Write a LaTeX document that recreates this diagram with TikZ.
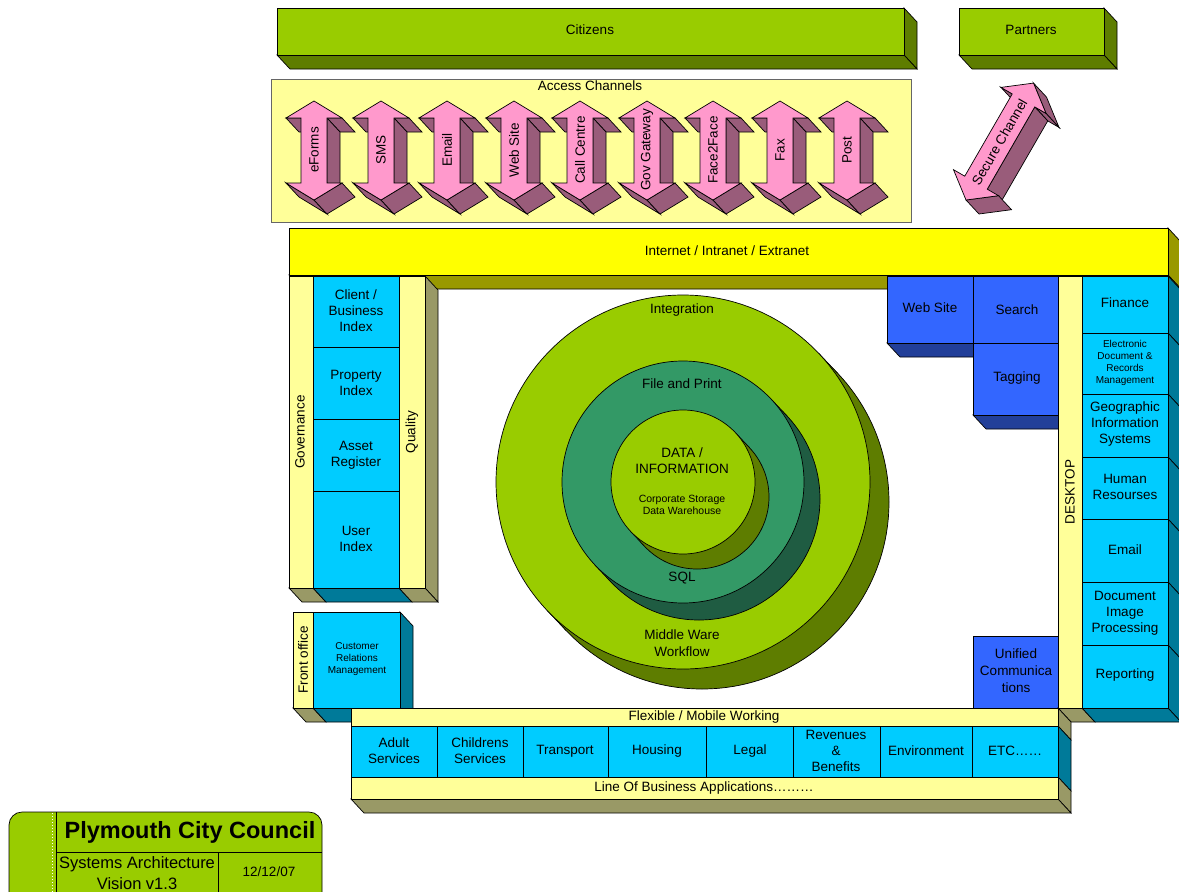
\documentclass[tikz,border=0pt]{standalone}
\usepackage{fontspec}
\setmainfont{Liberation Sans}
\usetikzlibrary{calc}

\definecolor{pcLime}{HTML}{99CC00}
\definecolor{pcOlive}{HTML}{5E7D00}
\definecolor{pcPale}{HTML}{FFFF99}
\definecolor{pcYellow}{HTML}{FFFF00}
\definecolor{pcMustard}{HTML}{999900}
\definecolor{pcKhaki}{HTML}{999966}
\definecolor{pcCyan}{HTML}{00CCFF}
\definecolor{pcTeal}{HTML}{007A99}
\definecolor{pcBlue}{HTML}{3366FF}
\definecolor{pcNavy}{HTML}{223F99}
\definecolor{pcPink}{HTML}{FF99CC}
\definecolor{pcMauve}{HTML}{995C7A}
\definecolor{pcSea}{HTML}{339966}
\definecolor{pcPine}{HTML}{1F5C42}

\tikzset{
  outl/.style={draw=black, line width=0.7pt, line join=miter},
  lbl/.style={font=\fontsize{13.5}{16}\selectfont, align=center, inner sep=0pt},
  smalltxt/.style={font=\fontsize{10}{12}\selectfont, align=center, inner sep=0pt},
}

% extruded block: right face, bottom face, then front face
\newcommand\solidblock[6]{% x1,y1,x2,y2,front,side
  \filldraw[fill=#6, outl] (#3,#2) -- (#3+13,#2+14) -- (#3+13,#4+14) -- (#3,#4) -- cycle;
  \filldraw[fill=#6, outl] (#1,#4) -- (#3,#4) -- (#3+13,#4+14) -- (#1+13,#4+14) -- cycle;
  \filldraw[fill=#5, outl] (#1,#2) rectangle (#3,#4);
}

% extruded double-headed channel arrow centred on x = #1
\newcommand\chanarrow[3]{%
  \begin{scope}[shift={(#1,0)}]
    \filldraw[fill=pcMauve, outl] (-13,118) -- (-28,118) -- (-15,132) -- (0,132) -- cycle;
    \filldraw[fill=pcMauve, outl] (28,118) -- (13,118) -- (26,132) -- (41,132) -- cycle;
    \filldraw[fill=pcMauve, outl] (13,118) -- (13,183) -- (26,197) -- (26,132) -- cycle;
    \filldraw[fill=pcMauve, outl] (0,200) -- (-28,183) -- (-15,197) -- (13,214) -- cycle;
    \filldraw[fill=pcMauve, outl] (28,183) -- (0,200) -- (13,214) -- (41,197) -- cycle;
    \filldraw[fill=pcPink, outl] (0,101) -- (28,118) -- (13,118) -- (13,183) -- (28,183)
      -- (0,200) -- (-28,183) -- (-13,183) -- (-13,118) -- (-28,118) -- cycle;
    \node[lbl, rotate=90] (#2) at (0,150) {#3};
  \end{scope}}

% extruded disc: back disc, tangent band, front disc
\newcommand\disc[7]{% cx,cy,R,dx,dy,front,side
  \pgfmathsetmacro\tpx{#3*#5/sqrt(#4*#4+#5*#5)}%
  \pgfmathsetmacro\tpy{#3*#4/sqrt(#4*#4+#5*#5)}%
  \filldraw[fill=#7, outl] (#1+#4,#2+#5) circle[radius=#3pt];
  \fill[#7] (#1+\tpx,#2-\tpy) -- (#1-\tpx,#2+\tpy) -- (#1-\tpx+#4,#2+\tpy+#5) -- (#1+\tpx+#4,#2-\tpy+#5) -- cycle;
  \draw[outl] (#1+\tpx,#2-\tpy) -- (#1+\tpx+#4,#2-\tpy+#5);
  \draw[outl] (#1-\tpx,#2+\tpy) -- (#1-\tpx+#4,#2+\tpy+#5);
  \filldraw[fill=#6, outl] (#1,#2) circle[radius=#3pt];
}

\begin{document}
\begin{tikzpicture}[x=1pt,y=-1pt]
\useasboundingbox (0,0) rectangle (1179,892);
\fill[white] (0,0) rectangle (1179,892);
\clip (0,0) rectangle (1179,892);

% ---------- top: citizens and partners ----------
\solidblock{277}{8}{904}{55}{pcLime}{pcOlive}
\node[lbl] (citizens) at (590,30) {Citizens};
\solidblock{959}{8}{1104}{55}{pcLime}{pcOlive}
\node[lbl] (partners) at (1031,30) {Partners};

% ---------- access channels ----------
\filldraw[fill=pcPale, draw=black!60, line width=0.8pt] (271,79) rectangle (911,222);
\node[lbl] (access) at (590,86) {Access Channels};
\chanarrow{314}{chEforms}{eForms}
\chanarrow{381}{chSms}{SMS}
\chanarrow{447}{chEmail}{Email}
\chanarrow{514}{chWeb}{Web Site}
\chanarrow{580}{chCall}{Call Centre}
\chanarrow{647}{chGov}{Gov Gateway}
\chanarrow{713}{chFace}{Face2Face}
\chanarrow{780}{chFax}{Fax}
\chanarrow{847}{chPost}{Post}

% ---------- secure channel ----------
\begin{scope}[shift={(966,200)}, rotate=60]
  \coordinate (q1) at (135,0);
  \coordinate (q2) at (115,26);
  \coordinate (q3) at (115,13);
  \coordinate (q4) at (20,13);
  \coordinate (q5) at (20,26);
  \coordinate (q6) at (0,0);
  \coordinate (q7) at (20,-26);
  \coordinate (q8) at (20,-13);
  \coordinate (q9) at (115,-13);
  \coordinate (q10) at (115,-26);
  \coordinate (qmid) at (67,0);
\end{scope}
\filldraw[fill=pcMauve, outl] (q9) -- (q10) -- ($(q10)+(13,14)$) -- ($(q9)+(13,14)$) -- cycle;
\filldraw[fill=pcMauve, outl] (q1) -- (q2) -- ($(q2)+(13,14)$) -- ($(q1)+(13,14)$) -- cycle;
\filldraw[fill=pcMauve, outl] (q2) -- (q3) -- ($(q3)+(13,14)$) -- ($(q2)+(13,14)$) -- cycle;
\filldraw[fill=pcMauve, outl] (q3) -- (q4) -- ($(q4)+(13,14)$) -- ($(q3)+(13,14)$) -- cycle;
\filldraw[fill=pcMauve, outl] (q5) -- (q6) -- ($(q6)+(13,14)$) -- ($(q5)+(13,14)$) -- cycle;
\filldraw[fill=pcPink, outl] (q1) -- (q2) -- (q3) -- (q4) -- (q5) -- (q6) -- (q7) -- (q8) -- (q9) -- (q10) -- cycle;
\node[lbl, rotate=60] (secure) at (qmid) {Secure Channel};

% ---------- internet / intranet / extranet ----------
\filldraw[fill=pcMustard, outl] (1168,228) -- (1181,242) -- (1181,289) -- (1168,275) -- cycle;
\filldraw[fill=pcMustard, outl] (289,275) -- (1168,275) -- (1181,289) -- (302,289) -- cycle;
\filldraw[fill=pcYellow, outl] (289,228) rectangle (1168,275);
\node[lbl] (internet) at (727,251) {Internet / Intranet / Extranet};

% ---------- central rings ----------
\disc{683}{482}{187}{19}{20}{pcLime}{pcOlive}
\disc{683}{482}{121}{16}{17}{pcSea}{pcPine}
\disc{683}{482}{72}{14}{15}{pcLime}{pcOlive}
\node[lbl] (integration) at (682,310) {Integration};
\node[lbl] (fileprint) at (682,384) {File and Print};
\node[lbl] (data) at (682,461) {DATA /\\INFORMATION};
\node[font=\fontsize{10.5}{12}\selectfont, align=center, inner sep=0pt] (storage) at (682,505) {Corporate Storage\\Data Warehouse};
\node[lbl] (sql) at (682,578) {SQL};
\node[lbl, font=\fontsize{13.5}{17}\selectfont] (middleware) at (682,643) {Middle Ware\\Workflow};

% ---------- left column: governance, indexes, quality ----------
\filldraw[fill=pcKhaki, outl] (425,276) -- (438,290) -- (438,602) -- (425,588) -- cycle;
\filldraw[fill=pcKhaki, outl] (289,588) -- (313,588) -- (326,602) -- (302,602) -- cycle;
\filldraw[fill=pcTeal, outl] (313,588) -- (399,588) -- (412,602) -- (326,602) -- cycle;
\filldraw[fill=pcKhaki, outl] (399,588) -- (425,588) -- (438,602) -- (412,602) -- cycle;
\filldraw[fill=pcPale, outl] (289,276) rectangle (313,588);
\filldraw[fill=pcPale, outl] (399,276) rectangle (425,588);
\filldraw[fill=pcCyan, outl] (313,276) rectangle (399,347);
\filldraw[fill=pcCyan, outl] (313,347) rectangle (399,419);
\filldraw[fill=pcCyan, outl] (313,419) rectangle (399,491);
\filldraw[fill=pcCyan, outl] (313,491) rectangle (399,588);
\node[lbl, rotate=90] (governance) at (300,432) {Governance};
\node[lbl, rotate=90] (quality) at (412,432) {Quality};
\node[lbl] (client) at (356,311) {Client /\\Business\\Index};
\node[lbl] (property) at (356,383) {Property\\Index};
\node[lbl] (asset) at (356,455) {Asset\\Register};
\node[lbl] (userindex) at (356,539) {User\\Index};

% ---------- web site, search, tagging ----------
\filldraw[fill=pcNavy, outl] (887,343) -- (973,343) -- (986,357) -- (900,357) -- cycle;
\filldraw[fill=pcBlue, outl] (887,276) rectangle (973,343);
\node[lbl] (website) at (930,308) {Web Site};
\filldraw[fill=pcBlue, outl] (973,276) rectangle (1058,343);
\node[lbl] (search) at (1017,310) {Search};
\filldraw[fill=pcNavy, outl] (973,415) -- (1058,415) -- (1071,429) -- (986,429) -- cycle;
\filldraw[fill=pcBlue, outl] (973,343) rectangle (1058,415);
\node[lbl] (tagging) at (1017,378) {Tagging};

% ---------- desktop column ----------
\foreach \ya/\yb in {276/333, 333/394, 394/457, 457/519, 519/582, 582/645, 645/708}
  \filldraw[fill=pcTeal, outl] (1168,\ya) -- (1181,\ya+14) -- (1181,\yb+14) -- (1168,\yb) -- cycle;
\filldraw[fill=pcKhaki, outl] (1058,708) -- (1082,708) -- (1095,722) -- (1071,722) -- cycle;
\filldraw[fill=pcTeal, outl] (1082,708) -- (1168,708) -- (1181,722) -- (1095,722) -- cycle;
\filldraw[fill=pcPale, outl] (1058,276) rectangle (1082,708);
\node[lbl, rotate=90] (desktop) at (1070,492) {DESKTOP};
\foreach \ya/\yb in {276/333, 333/394, 394/457, 457/519, 519/582, 582/645, 645/708}
  \filldraw[fill=pcCyan, outl] (1082,\ya) rectangle (1168,\yb);
\node[lbl] (finance) at (1125,303) {Finance};
\node[smalltxt] (edrm) at (1125,363) {Electronic\\Document \&\\Records\\Management};
\node[lbl] (gis) at (1125,424) {Geographic\\Information\\Systems};
\node[lbl] (hr) at (1125,487) {Human\\Resourses};
\node[lbl] (email) at (1125,550) {Email};
\node[lbl] (dip) at (1125,613) {Document\\Image\\Processing};
\node[lbl] (reporting) at (1125,675) {Reporting};

% ---------- unified communications ----------
\filldraw[fill=pcBlue, outl] (973,636) rectangle (1058,708);
\node[lbl, font=\fontsize{13.5}{17}\selectfont] (unified) at (1016,671) {Unified\\Communica\\tions};

% ---------- front office ----------
\filldraw[fill=pcTeal, outl] (400,612) -- (413,626) -- (413,722) -- (400,708) -- cycle;
\filldraw[fill=pcKhaki, outl] (293,708) -- (313,708) -- (326,722) -- (306,722) -- cycle;
\filldraw[fill=pcTeal, outl] (313,708) -- (400,708) -- (413,722) -- (326,722) -- cycle;
\filldraw[fill=pcPale, outl] (293,612) rectangle (313,708);
\filldraw[fill=pcCyan, outl] (313,612) rectangle (400,708);
\node[lbl, rotate=90] (frontoffice) at (303,660) {Front office};
\node[smalltxt] (crm) at (357,659) {Customer\\Relations\\Management};

% ---------- line of business block ----------
\filldraw[fill=pcKhaki, outl] (1058,708) -- (1071,722) -- (1071,740) -- (1058,726) -- cycle;
\filldraw[fill=pcTeal, outl] (1058,726) -- (1071,740) -- (1071,791) -- (1058,777) -- cycle;
\filldraw[fill=pcKhaki, outl] (1058,777) -- (1071,791) -- (1071,813) -- (1058,799) -- cycle;
\filldraw[fill=pcKhaki, outl] (351,799) -- (1058,799) -- (1071,813) -- (364,813) -- cycle;
\filldraw[fill=pcPale, outl] (351,708) rectangle (1058,726);
\node[lbl] (flexible) at (704,717) {Flexible / Mobile Working};
\foreach \xa/\xb in {351/437, 437/523, 523/608, 608/706, 706/793, 793/880, 880/972, 972/1058}
  \filldraw[fill=pcCyan, outl] (\xa,726) rectangle (\xb,777);
\node[lbl] (adult) at (394,751) {Adult\\Services};
\node[lbl] (children) at (480,751) {Childrens\\Services};
\node[lbl] (transport) at (565,751) {Transport};
\node[lbl] (housing) at (657,751) {Housing};
\node[lbl] (legal) at (750,751) {Legal};
\node[lbl] (revenues) at (836,751) {Revenues\\\&\\Benefits};
\node[lbl] (environment) at (926,751) {Environment};
\node[lbl] (etc) at (1015,751) {ETC……};
\filldraw[fill=pcPale, outl] (351,777) rectangle (1058,799);
\node[lbl] (lob) at (704,788) {Line Of Business Applications………};

% ---------- title block ----------
\filldraw[fill=pcLime, outl, rounded corners=13pt] (9,812) rectangle (322,920);
\draw[white, dotted, line width=1pt] (52.5,813) -- (52.5,892);
\draw[outl] (56,812) -- (56,892);
\draw[outl] (56,852.5) -- (322,852.5);
\draw[outl] (218,852.5) -- (218,892);
\node[font=\bfseries\fontsize{23.5}{26}\selectfont, inner sep=0pt] (council) at (190,832) {Plymouth City Council};
\node[font=\fontsize{16.5}{21}\selectfont, align=center, inner sep=0pt] (vision) at (137,873) {Systems Architecture\\Vision v1.3};
\node[lbl] (date) at (269,872) {12/12/07};
\end{tikzpicture}
\end{document}
